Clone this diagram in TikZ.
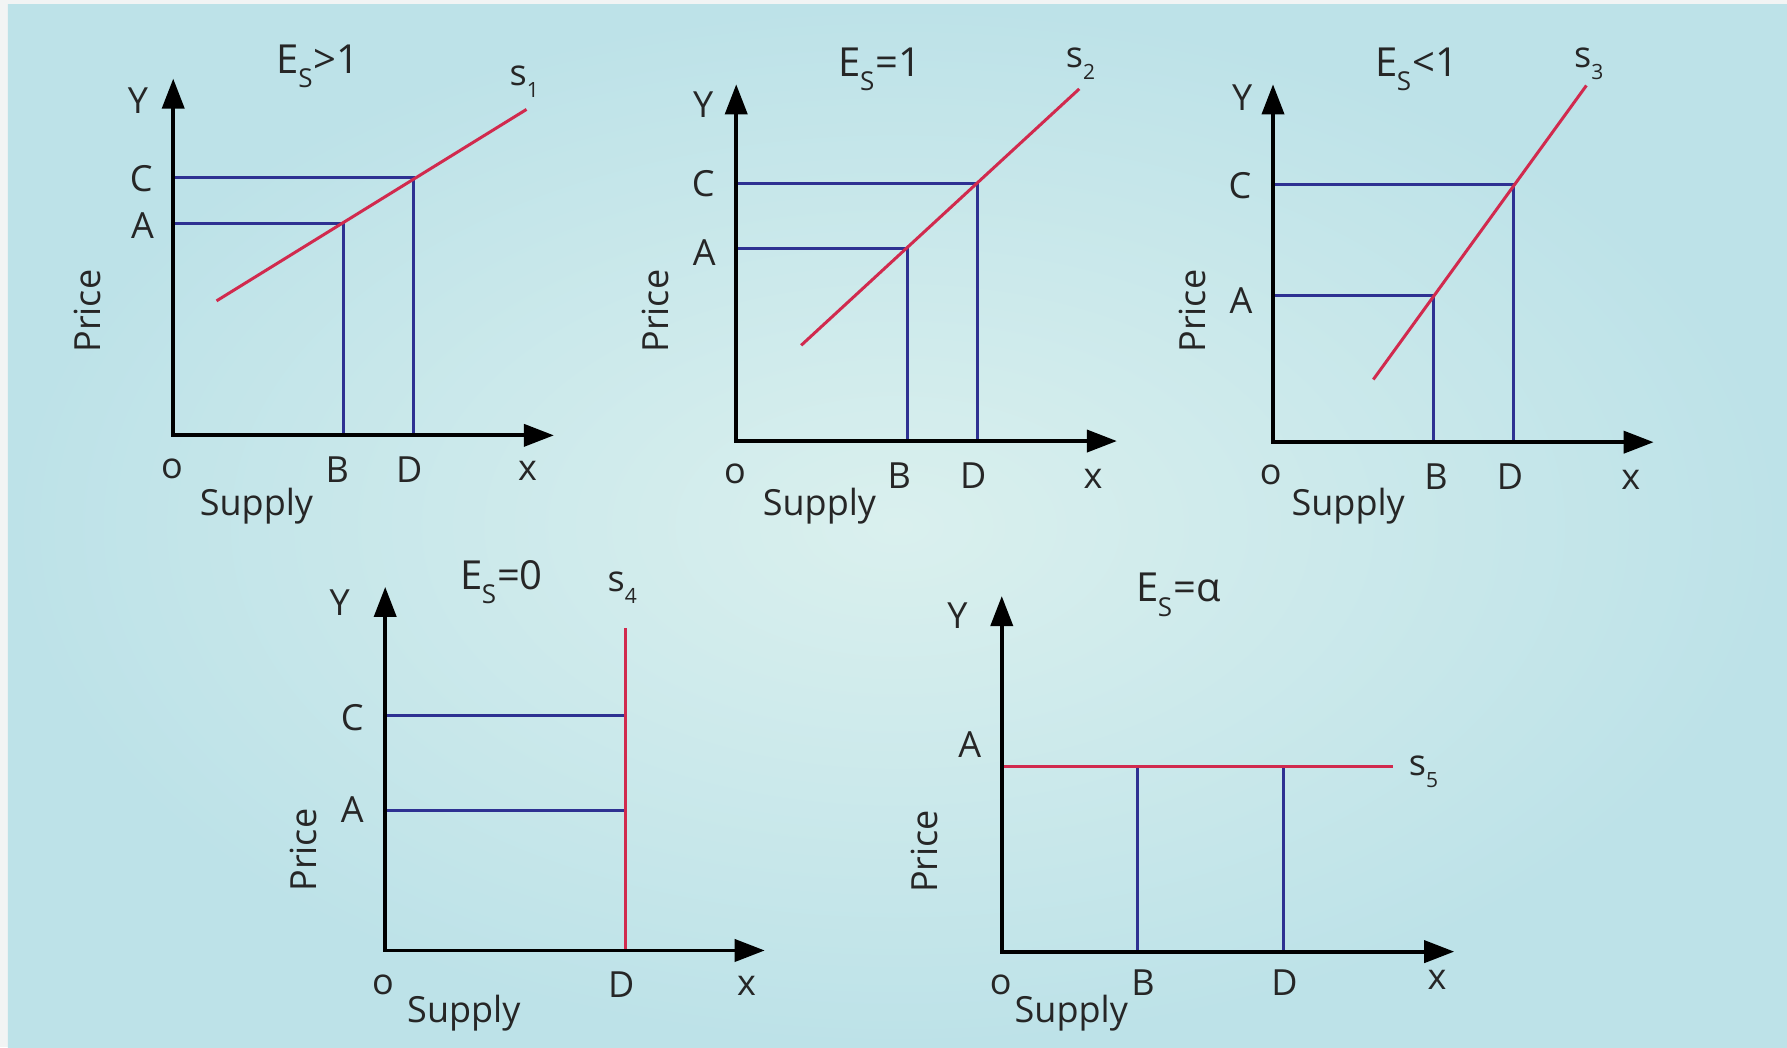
\documentclass[tikz,border=0pt]{standalone}
\usepackage{fontspec}
\setmainfont{Open Sans}
\usetikzlibrary{arrows.meta}
\definecolor{bgout}{HTML}{BDE2E8}
\definecolor{bgin}{HTML}{DAF0EE}
\definecolor{frame}{HTML}{F2F4F4}
\definecolor{navy}{HTML}{2E3192}
\definecolor{crim}{HTML}{D12A4E}
\newcommand{\Esub}{E\kern-0.3pt\raisebox{-0.36em}{\fontsize{13}{13}\selectfont S}\kern0.5pt}
\newcommand{\ssub}[1]{s\raisebox{-0.34em}{\fontsize{10.5}{10.5}\selectfont #1}}
\begin{document}
\begin{tikzpicture}[x=0.5698pt,y=-0.5698pt,
  lbl/.style={font=\fontsize{18}{18}\selectfont, inner sep=0pt, text=black!85},
  ttl/.style={font=\fontsize{20}{20}\selectfont, inner sep=0pt, text=black!85},
  axis/.style={line width=1.9pt, line join=miter, {Triangle[length=15pt,width=11pt]}-{Triangle[length=15pt,width=11pt]}},
  guide/.style={navy, line width=1.5pt},
  curve/.style={crim, line width=1.5pt}]
\useasboundingbox (0,0) rectangle (1568,919);
\fill[frame] (0,0) rectangle (1568,919);
\shade[inner color=bgin, outer color=bgout] (7,4) rectangle (1568,919);

% ---------- Panel 1 : Es > 1 ----------
\coordinate (o1) at (152,382);
\coordinate (yt1) at (152,69);
\coordinate (xt1) at (486,382);
\coordinate (c1) at (152,156);
\coordinate (a1) at (152,196);
\coordinate (pa1) at (301,196);
\coordinate (pc1) at (363,156);
\coordinate (b1) at (301,382);
\coordinate (d1) at (363,382);
\coordinate (r1s) at (190,264);
\coordinate (r1e) at (462,96);
\draw[guide] (c1) -- (pc1) -- (d1);
\draw[guide] (a1) -- (pa1) -- (b1);
\draw[curve] (r1s) -- (r1e);
\draw[axis] (yt1) -- (o1) -- (xt1);
\node[lbl] (Y1) at (121,88) {Y};
\node[lbl] (C1) at (124,157) {C};
\node[lbl] (A1) at (125,198) {A};
\node[lbl, rotate=90] (P1) at (77,273) {Price};
\node[lbl] (O1) at (151,411) {o};
\node[lbl] (B1) at (296,412) {B};
\node[lbl] (D1) at (359,412) {D};
\node[lbl] (X1) at (463,413) {x};
\node[lbl] (S1) at (225,444) {Supply};
\node[ttl] (T1) at (279,58) {\Esub>1};
\node[lbl] (s1) at (460,72) {\ssub{1}};

% ---------- Panel 2 : Es = 1 ----------
\coordinate (o2) at (646,387);
\coordinate (yt2) at (646,74);
\coordinate (xt2) at (980,387);
\coordinate (c2) at (646,161);
\coordinate (a2) at (646,218);
\coordinate (pa2) at (796,218);
\coordinate (pc2) at (858,161);
\coordinate (b2) at (796,387);
\coordinate (d2) at (858,387);
\coordinate (r2s) at (703,303);
\coordinate (r2e) at (947,78);
\draw[guide] (c2) -- (pc2) -- (d2);
\draw[guide] (a2) -- (pa2) -- (b2);
\draw[curve] (r2s) -- (r2e);
\draw[axis] (yt2) -- (o2) -- (xt2);
\node[lbl] (Y2) at (617,92) {Y};
\node[lbl] (C2) at (617,161) {C};
\node[lbl] (A2) at (618,222) {A};
\node[lbl, rotate=90] (P2) at (575,273) {Price};
\node[lbl] (O2) at (645,416) {o};
\node[lbl] (B2) at (789,417) {B};
\node[lbl] (D2) at (854,417) {D};
\node[lbl] (X2) at (959,420) {x};
\node[lbl] (S2) at (719,444) {Supply};
\node[ttl] (T2) at (772,61) {\Esub=1};
\node[lbl] (s2) at (948,56) {\ssub{2}};

% ---------- Panel 3 : Es < 1 ----------
\coordinate (o3) at (1117,388);
\coordinate (yt3) at (1117,74);
\coordinate (xt3) at (1451,388);
\coordinate (c3) at (1117,162);
\coordinate (a3) at (1117,259);
\coordinate (pa3) at (1258,259);
\coordinate (pc3) at (1328,162);
\coordinate (b3) at (1258,388);
\coordinate (d3) at (1328,388);
\coordinate (r3s) at (1205,333);
\coordinate (r3e) at (1392,75);
\draw[guide] (c3) -- (pc3) -- (d3);
\draw[guide] (a3) -- (pa3) -- (b3);
\draw[curve] (r3s) -- (r3e);
\draw[axis] (yt3) -- (o3) -- (xt3);
\node[lbl] (Y3) at (1090,86) {Y};
\node[lbl] (C3) at (1088,163) {C};
\node[lbl] (A3) at (1089,264) {A};
\node[lbl, rotate=90] (P3) at (1046,273) {Price};
\node[lbl] (O3) at (1115,417) {o};
\node[lbl] (B3) at (1260,418) {B};
\node[lbl] (D3) at (1325,418) {D};
\node[lbl] (X3) at (1431,421) {x};
\node[lbl] (S3) at (1183,444) {Supply};
\node[ttl] (T3) at (1243,61) {\Esub<1};
\node[lbl] (s3) at (1394,56) {\ssub{3}};

% ---------- Panel 4 : Es = 0 ----------
\coordinate (o4) at (338,834);
\coordinate (yt4) at (338,515);
\coordinate (xt4) at (671,834);
\coordinate (c4) at (338,627.5);
\coordinate (a4) at (338,711.5);
\coordinate (pc4) at (549,627.5);
\coordinate (pa4) at (549,711.5);
\coordinate (r4s) at (549,834);
\coordinate (r4e) at (549,551);
\draw[guide] (c4) -- (pc4);
\draw[guide] (a4) -- (pa4);
\draw[curve] (r4s) -- (r4e);
\draw[axis] (yt4) -- (o4) -- (xt4);
\node[lbl] (Y4) at (298,529) {Y};
\node[lbl] (C4) at (309,630) {C};
\node[lbl] (A4) at (309,710) {A};
\node[lbl, rotate=90] (P4) at (266,746) {Price};
\node[lbl] (O4) at (336,864) {o};
\node[lbl] (D4) at (545,864) {D};
\node[lbl] (X4) at (655,865) {x};
\node[lbl] (S4) at (407,889) {Supply};
\node[ttl] (T4) at (440,511) {\Esub=0};
\node[lbl] (s4) at (546,516) {\ssub{4}};

% ---------- Panel 5 : Es = alpha ----------
\coordinate (o5) at (879,835);
\coordinate (yt5) at (879,523);
\coordinate (xt5) at (1276,835);
\coordinate (r5s) at (879,673);
\coordinate (r5e) at (1222,673);
\coordinate (pb5) at (998.5,673);
\coordinate (pd5) at (1126.5,673);
\coordinate (b5) at (998.5,835);
\coordinate (d5) at (1126.5,835);
\draw[guide] (pb5) -- (b5);
\draw[guide] (pd5) -- (d5);
\draw[curve] (r5s) -- (r5e);
\draw[axis] (yt5) -- (o5) -- (xt5);
\node[lbl] (Y5) at (840,540) {Y};
\node[lbl] (A5) at (851,653) {A};
\node[lbl, rotate=90] (P5) at (811,747) {Price};
\node[lbl] (O5) at (878,864) {o};
\node[lbl] (B5) at (1003,862) {B};
\node[lbl] (D5) at (1127,862) {D};
\node[lbl] (X5) at (1261,860) {x};
\node[lbl] (S5) at (940,889) {Supply};
\node[ttl] (T5) at (1034,522) {\Esub=α};
\node[lbl] (s5) at (1249,677) {\ssub{5}};
\end{tikzpicture}
\end{document}
